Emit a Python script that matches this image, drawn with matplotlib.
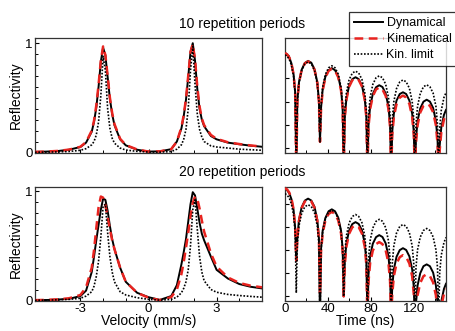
import numpy as np
import matplotlib
matplotlib.use("Agg")
import matplotlib.pyplot as plt
from matplotlib.ticker import MultipleLocator, FixedLocator, NullLocator, NullFormatter

plt.rcParams['font.family'] = ['Liberation Sans', 'DejaVu Sans']

# ---- velocity spectra (left column) ----
vel = [-5, -4.5, -4, -3.5, -3, -2.75, -2.5, -2.4, -2.3, -2.2, -2.1, -2.0, -1.9, -1.8,
       -1.7, -1.6, -1.5, -1.25, -1.0, -0.5, 0.0, 0.5, 1.0, 1.25, 1.45, 1.55, 1.65, 1.75,
       1.85, 1.95, 2.05, 2.15, 2.25, 2.35, 2.45, 2.75, 3.0, 3.5, 4.0, 4.5, 5.0]

dyn10_v = [0.005, 0.008, 0.013, 0.025, 0.05, 0.09, 0.19, 0.28, 0.41, 0.60, 0.83, 0.96, 0.89, 0.69,
           0.49, 0.35, 0.25, 0.12, 0.065, 0.025, 0.008, 0.01, 0.03, 0.10, 0.22, 0.33, 0.48, 0.69,
           0.92, 1.0, 0.84, 0.58, 0.40, 0.30, 0.24, 0.15, 0.12, 0.09, 0.075, 0.062, 0.052]
kin10_v = [0.005, 0.008, 0.014, 0.026, 0.052, 0.095, 0.20, 0.29, 0.43, 0.62, 0.84, 0.97, 0.89, 0.70,
           0.50, 0.36, 0.26, 0.125, 0.068, 0.027, 0.008, 0.01, 0.03, 0.10, 0.23, 0.34, 0.49, 0.70,
           0.92, 0.99, 0.85, 0.60, 0.42, 0.31, 0.25, 0.16, 0.125, 0.093, 0.077, 0.064, 0.054]
lim10_v = [0.002, 0.0035, 0.005, 0.009, 0.02, 0.035, 0.07, 0.10, 0.16, 0.28, 0.52, 0.88, 0.75, 0.40,
           0.22, 0.13, 0.085, 0.04, 0.022, 0.01, 0.004, 0.003, 0.008, 0.03, 0.07, 0.12, 0.21, 0.40,
           0.75, 0.97, 0.62, 0.35, 0.21, 0.14, 0.10, 0.06, 0.05, 0.04, 0.03, 0.025, 0.02]

dyn20_v = [0.003, 0.004, 0.008, 0.015, 0.04, 0.09, 0.26, 0.40, 0.55, 0.69, 0.83, 0.93, 0.92, 0.82,
           0.68, 0.56, 0.47, 0.30, 0.17, 0.07, 0.03, 0.005, 0.04, 0.14, 0.33, 0.44, 0.56, 0.72,
           0.88, 0.99, 0.96, 0.84, 0.71, 0.61, 0.55, 0.40, 0.28, 0.20, 0.15, 0.125, 0.11]
kin20_v = [0.003, 0.005, 0.01, 0.02, 0.05, 0.12, 0.30, 0.46, 0.66, 0.85, 0.95, 0.94, 0.87, 0.76,
           0.65, 0.55, 0.47, 0.30, 0.17, 0.07, 0.025, 0.003, 0.03, 0.10, 0.24, 0.35, 0.48, 0.62,
           0.77, 0.89, 0.95, 0.93, 0.84, 0.73, 0.63, 0.43, 0.31, 0.21, 0.16, 0.135, 0.12]
lim20_v = [0.002, 0.003, 0.006, 0.01, 0.02, 0.04, 0.08, 0.13, 0.22, 0.36, 0.58, 0.86, 0.88, 0.62,
           0.40, 0.26, 0.17, 0.08, 0.05, 0.025, 0.01, 0.003, 0.01, 0.03, 0.07, 0.11, 0.17, 0.28,
           0.50, 0.83, 0.92, 0.65, 0.40, 0.26, 0.18, 0.10, 0.075, 0.055, 0.045, 0.037, 0.03]

# ---- time spectra (right column), log scale ----
time = [0, 2, 4, 6, 8, 9.5, 10.5,
        11.5, 13, 15.5, 18.5, 21.5, 24.5, 27.5, 30.1, 31.6, 32.6,
        33.6, 35.1, 37.6, 40.6, 43.6, 46.6, 49.6, 52.2, 53.7, 54.7,
        55.7, 57.2, 59.7, 62.7, 65.7, 68.7, 71.7, 74.3, 75.8, 76.8,
        77.8, 79.3, 81.8, 84.8, 87.8, 90.8, 93.8, 96.4, 97.9, 98.9,
        99.9, 101.4, 103.9, 106.9, 109.9, 112.9, 115.9, 118.5, 120, 121,
        122, 123.5, 126, 129, 132, 135, 138, 140.6, 142.1, 143.1,
        144.1, 145.6, 148.1, 150]

dyn10_t = [1.2, 1.04, 0.77, 0.43, 0.145, 0.024, 1e-5,
           0.011, 0.067, 0.23, 0.45, 0.55, 0.46, 0.24, 0.067, 0.011, 1.9e-4,
           0.0054, 0.033, 0.115, 0.22, 0.27, 0.22, 0.12, 0.033, 0.0054, 1e-5,
           0.0022, 0.013, 0.047, 0.091, 0.11, 0.091, 0.048, 0.013, 0.0022, 1e-5,
           0.001, 0.006, 0.021, 0.041, 0.05, 0.042, 0.022, 0.006, 0.001, 1e-5,
           0.0005, 0.003, 0.011, 0.021, 0.025, 0.021, 0.011, 0.003, 0.0005, 1e-5,
           0.00024, 0.00145, 0.0051, 0.0099, 0.012, 0.01, 0.0053, 0.00145, 0.00024, 1e-5,
           0.00013, 0.00077, 0.0027, 0.0044]
kin10_t = [1.2, 1.04, 0.77, 0.43, 0.145, 0.024, 1e-5,
           0.0104, 0.063, 0.22, 0.43, 0.52, 0.43, 0.23, 0.063, 0.0104, 1.9e-4,
           0.005, 0.030, 0.106, 0.206, 0.25, 0.21, 0.11, 0.030, 0.005, 1e-5,
           0.002, 0.012, 0.0425, 0.082, 0.10, 0.083, 0.044, 0.012, 0.002, 1e-5,
           0.0008, 0.0048, 0.017, 0.033, 0.04, 0.033, 0.0176, 0.0048, 0.0008, 1e-5,
           0.00036, 0.0022, 0.0077, 0.0148, 0.018, 0.015, 0.0079, 0.0022, 0.00036, 1e-5,
           0.00016, 0.00097, 0.0034, 0.0066, 0.008, 0.0066, 0.0035, 0.00097, 0.00016, 1e-5,
           0.00008, 0.00048, 0.0017, 0.0028]
lim10_t = [1.0, 0.87, 0.64, 0.36, 0.121, 0.020, 1e-5,
           0.010, 0.06, 0.21, 0.41, 0.5, 0.415, 0.22, 0.06, 0.010, 1.9e-4,
           0.0068, 0.041, 0.145, 0.28, 0.34, 0.28, 0.15, 0.041, 0.0068, 1e-5,
           0.004, 0.024, 0.085, 0.165, 0.2, 0.166, 0.088, 0.024, 0.004, 1e-5,
           0.0025, 0.015, 0.054, 0.104, 0.126, 0.105, 0.055, 0.015, 0.0025, 1e-5,
           0.0017, 0.010, 0.036, 0.069, 0.084, 0.07, 0.037, 0.010, 0.0017, 1e-5,
           0.001, 0.0063, 0.022, 0.043, 0.052, 0.043, 0.023, 0.0063, 0.001, 1e-5,
           0.0007, 0.0042, 0.015, 0.024]

dyn20_t = [4.4, 3.8, 2.8, 1.57, 0.53, 0.088, 3.4e-3,
           0.033, 0.20, 0.70, 1.36, 1.65, 1.37, 0.73, 0.20, 0.033, 1e-5,
           0.0114, 0.069, 0.24, 0.47, 0.57, 0.47, 0.25, 0.069, 0.0114, 1e-4,
           0.0032, 0.019, 0.068, 0.132, 0.16, 0.133, 0.07, 0.019, 0.0032, 1e-5,
           0.00088, 0.0053, 0.0187, 0.036, 0.044, 0.0365, 0.0194, 0.0053, 0.00088, 1e-5,
           0.00024, 0.00145, 0.0051, 0.0099, 0.012, 0.01, 0.0053, 0.00145, 0.00024, 1e-5,
           0.000048, 0.00029, 0.001, 0.002, 0.0024, 0.002, 0.00106, 0.00029, 0.000048, 1e-5,
           0.00001, 0.00006, 0.00021, 0.00035]
kin20_t = [4.7, 4.1, 3.0, 1.68, 0.57, 0.094, 3.4e-3,
           0.03, 0.18, 0.64, 1.24, 1.5, 1.25, 0.66, 0.18, 0.03, 1.4e-4,
           0.0088, 0.053, 0.187, 0.36, 0.44, 0.365, 0.19, 0.053, 0.0088, 1e-4,
           0.0023, 0.014, 0.05, 0.096, 0.117, 0.097, 0.051, 0.014, 0.0023, 1e-5,
           0.00044, 0.0027, 0.0094, 0.018, 0.022, 0.018, 0.0097, 0.0027, 0.00044, 1e-5,
           0.00012, 0.00073, 0.0026, 0.0049, 0.006, 0.005, 0.0026, 0.00073, 0.00012, 1e-5,
           0.000018, 0.00011, 0.00038, 0.00074, 0.0009, 0.00075, 0.0004, 0.00011, 0.000018, 1e-5,
           0.000006, 0.000036, 0.00013, 0.00021]
lim20_t = [2.7, 2.35, 1.73, 0.96, 0.33, 0.054, 1.4e-4,
           0.018, 0.109, 0.38, 0.74, 0.9, 0.75, 0.40, 0.109, 0.018, 1e-5,
           0.0104, 0.063, 0.22, 0.43, 0.52, 0.43, 0.23, 0.063, 0.0104, 1e-4,
           0.0068, 0.041, 0.145, 0.28, 0.34, 0.28, 0.15, 0.041, 0.0068, 1e-5,
           0.0042, 0.025, 0.089, 0.173, 0.21, 0.174, 0.092, 0.025, 0.0042, 1e-5,
           0.0025, 0.015, 0.054, 0.104, 0.126, 0.105, 0.055, 0.015, 0.0025, 1e-5,
           0.0017, 0.0103, 0.036, 0.07, 0.085, 0.07, 0.037, 0.0103, 0.0017, 1e-5,
           0.001, 0.006, 0.021, 0.035]

labels = ["Dynamical", "Kinematical", "Kin. limit"]
titles = ["10 repetition periods", "20 repetition periods"]

RED = "#e8231f"
FS = 9.5


def draw(ax, x, dyn, kin, lim):
    ax.plot(x, dyn, color="black", lw=1.4, label=labels[0], zorder=2)
    ax.plot(x, kin, color=RED, lw=1.8, ls=(0, (3.5, 2.2)), label=labels[1], zorder=3)
    ax.plot(x, lim, color="black", lw=1.2, ls=(0, (1, 1)), label=labels[2], zorder=4)


def style(ax):
    for s in ax.spines.values():
        s.set_linewidth(0.9)
        s.set_color("#333333")
    ax.tick_params(direction="in", length=3, width=0.8, labelsize=FS, pad=1.5,
                   top=False, right=False)
    ax.tick_params(which="minor", direction="in", length=2, width=0.7)


fig = plt.figure(figsize=(4.55, 3.31), dpi=100)
W, H = 455.0, 331.0
axTL = fig.add_axes([35 / W, 1 - 153 / H, 227 / W, 115.3 / H])
axTR = fig.add_axes([285 / W, 1 - 153 / H, 161 / W, 115.3 / H])
axBL = fig.add_axes([35 / W, 1 - 301 / H, 227 / W, 114.3 / H])
axBR = fig.add_axes([285 / W, 1 - 301 / H, 161 / W, 114.3 / H])

draw(axTL, vel, dyn10_v, kin10_v, lim10_v)
draw(axBL, vel, dyn20_v, kin20_v, lim20_v)
draw(axTR, time, dyn10_t, kin10_t, lim10_t)
draw(axBR, time, dyn20_t, kin20_t, lim20_t)

for ax, top in [(axTL, 1.05), (axBL, 1.04)]:
    ax.set_xlim(-5, 5)
    ax.set_ylim(-0.005, top)
    ax.xaxis.set_major_locator(FixedLocator([-3, 0, 3]))
    ax.xaxis.set_minor_locator(MultipleLocator(1))
    ax.yaxis.set_major_locator(FixedLocator([0, 1]))
    ax.yaxis.set_minor_locator(MultipleLocator(0.1))
    ax.set_ylabel("Reflectivity", fontsize=FS + 0.5, labelpad=2)
    style(ax)

for ax in [axTR, axBR]:
    ax.set_yscale("log")
    ax.set_xlim(0, 150)
    ax.set_ylim(6.3e-5, 5.4)
    ax.yaxis.set_major_locator(FixedLocator([1e-4, 1e-3, 1e-2, 1e-1, 1]))
    ax.yaxis.set_minor_locator(NullLocator())
    ax.yaxis.set_major_formatter(NullFormatter())
    ax.xaxis.set_major_locator(FixedLocator([0, 40, 80, 120]))
    ax.xaxis.set_minor_locator(MultipleLocator(20))
    style(ax)

for ax in [axTL, axTR]:
    ax.xaxis.set_major_formatter(NullFormatter())

axBL.set_xticklabels(["-3", "0", "3"])
axBL.set_xlabel("Velocity (mm/s)", fontsize=FS + 0.5, labelpad=-1)
axBR.set_xlabel("Time (ns)", fontsize=FS + 0.5, labelpad=-1)

fig.text(242 / W, 1 - 24 / H, titles[0], ha="center", va="center", fontsize=FS + 0.5)
fig.text(242 / W, 1 - 172 / H, titles[1], ha="center", va="center", fontsize=FS + 0.5)

handles, labs = axTR.get_legend_handles_labels()
leg = fig.legend(handles, labs, loc="upper left", bbox_to_anchor=(349 / W, 1 - 12 / H),
                 fontsize=9, frameon=True, fancybox=False, handlelength=2.3,
                 handletextpad=0.3, labelspacing=0.32, borderpad=0.4, borderaxespad=0)
leg.get_frame().set_edgecolor("black")
leg.get_frame().set_linewidth(0.9)
leg.set_zorder(10)

fig.savefig("out.png", dpi=100)
